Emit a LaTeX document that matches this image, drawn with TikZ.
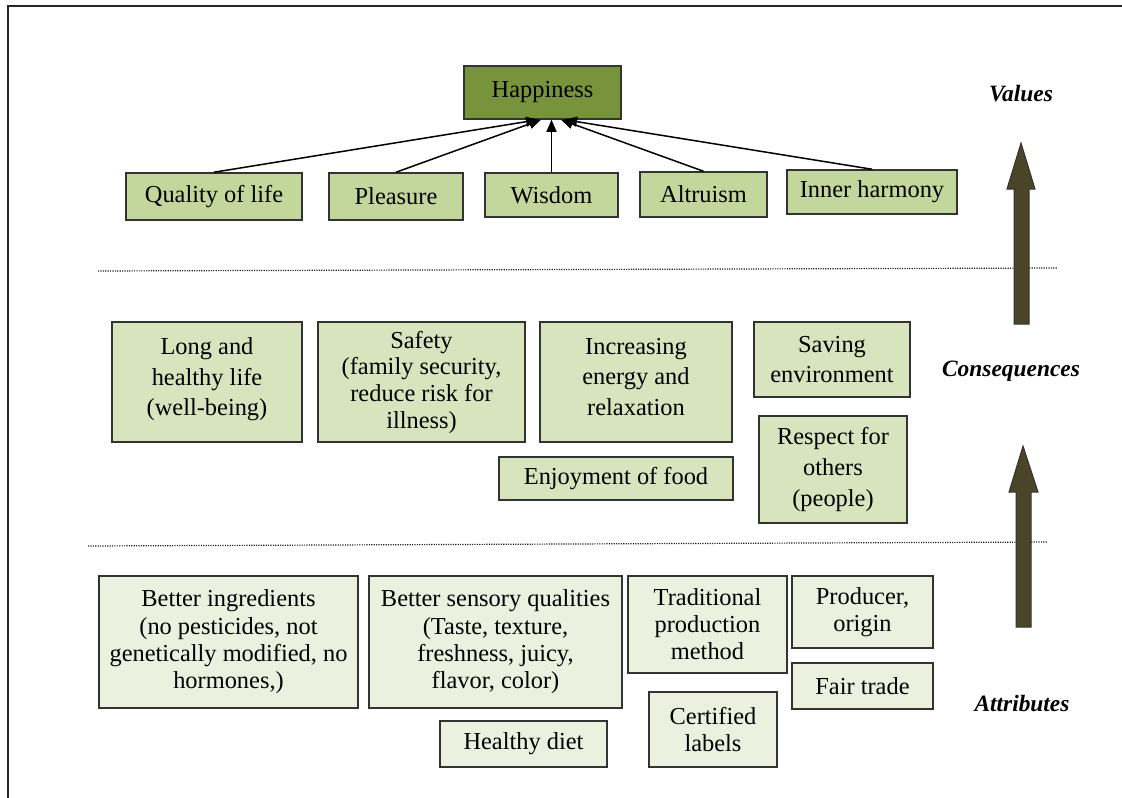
\documentclass[tikz,border=0pt]{standalone}
\usepackage{fontspec}
\setmainfont{Liberation Serif}
\usetikzlibrary{arrows.meta,calc}
\definecolor{hapfill}{HTML}{77933C}
\definecolor{valfill}{HTML}{C3D69B}
\definecolor{confill}{HTML}{D7E4BD}
\definecolor{attfill}{HTML}{EBF1DE}
\definecolor{bigarrow}{HTML}{4A4429}
\definecolor{edge}{HTML}{333333}

\begin{document}
\begin{tikzpicture}[x=0.5pt,y=-0.5pt,
  box/.style={draw=edge, line width=0.75pt, inner sep=0pt, align=center,
              font=\fontsize{12.2}{14.2}\selectfont},
  sz/.style 2 args={minimum width=#1*0.5pt, minimum height=#2*0.5pt},
  lead/.style={font=\fontsize{12.2}{#1}\selectfont},
  valbox/.style={box, fill=valfill},
  conbox/.style={box, fill=confill},
  attbox/.style={box, fill=attfill},
  topbox/.style={box, fill=hapfill},
  link/.style={line width=0.75pt, -{Triangle[length=6pt,width=5pt]}},
  layerline/.style={line width=0.6pt, black!85, dash pattern=on 0.6pt off 0.6pt},
  tier/.style={font=\fontsize{11.7}{14}\selectfont\bfseries\itshape, inner sep=0pt},
  uparrow/.style={fill=bigarrow, draw=black!80, line width=0.5pt, line join=miter}]

\useasboundingbox (0,0) rectangle (1122,797);

% outer frame
\draw[line width=1pt, black!85] (8,815) -- (8,6) -- (1140,6);

% values level
\node[topbox, sz={157}{53}] (hap) at (542.5,92.5) {Happiness};
\node[valbox, sz={176}{47}] (qol) at (214,196.5) {Quality of life};
\node[valbox, sz={134}{47}] (plea) at (396,196.5) {Pleasure};
\node[valbox, sz={133}{44}] (wis) at (551.5,195) {Wisdom};
\node[valbox, sz={127}{45}] (alt) at (703.5,194.5) {Altruism};
\node[valbox, sz={170}{44}] (inner) at (872,192) {Inner harmony};

\draw[link] (qol.north) -- ($(hap.south)+(-4.5,0)$);
\draw[link] (plea.north) -- ($(hap.south)+(-1.5,0)$);
\draw[link] (wis.north) -- (wis.north |- hap.south);
\draw[link] (alt.north) -- ($(hap.south)+(18.5,0)$);
\draw[link] (inner.north) -- ($(hap.south)+(22.5,0)$);

% layer separators
\coordinate (sepAa) at (98,271);
\coordinate (sepAb) at (1058,268);
\coordinate (sepBa) at (88,546);
\coordinate (sepBb) at (1047,542);
\draw[layerline] (sepAa) -- (sepAb);
\draw[layerline] (sepBa) -- (sepBb);

% consequences level
\node[conbox, sz={190}{120}, lead=15.3] (longlife) at (207,382)
  {Long and\\healthy life\\(well-being)\\[-10pt]};
\node[conbox, sz={207}{120}, lead=13.3] (safety) at (421.5,382)
  {Safety\\(family security,\\reduce risk for\\illness)\\[-11pt]};
\node[conbox, sz={192}{120}, lead=15.3] (energy) at (636,382)
  {Increasing\\energy and\\relaxation\\[-10pt]};
\node[conbox, sz={156}{75}, lead=15] (envir) at (832,359.5)
  {Saving\\environment};
\node[conbox, sz={234}{43}] (enjoy) at (616,478.5) {Enjoyment of food};
\node[conbox, sz={148}{107}, lead=15.3] (respect) at (833,469.5)
  {Respect for\\others\\(people)};

% attributes level
\node[attbox, sz={259}{132}, lead=13.7] (ingred) at (228.5,642)
  {Better ingredients\\(no pesticides, not\\genetically modified, no\\hormones,)};
\node[attbox, sz={253}{132}, lead=13.7] (sensory) at (495.5,642)
  {Better sensory qualities\\(Taste, texture,\\freshness, juicy,\\flavor, color)};
\node[attbox, sz={167}{46}] (diet) at (523.5,744) {Healthy diet};
\node[attbox, sz={159}{97}, lead=13.5] (tradit) at (707.5,624.5)
  {Traditional\\production\\method};
\node[attbox, sz={141}{72}, lead=13.8] (producer) at (862.5,612)
  {Producer,\\origin};
\node[attbox, sz={141}{46}] (fair) at (862.5,686) {Fair trade};
\node[attbox, sz={128}{75}, lead=13.8] (cert) at (713,729.5)
  {Certified\\labels};

% direction arrows
\draw[uparrow] (1014,324) -- (1014,189) -- (1007,189) -- (1021,143) -- (1035,189)
  -- (1029,189) -- (1029,324) -- cycle;
\draw[uparrow] (1016,627) -- (1016,492) -- (1009,492) -- (1023,446) -- (1038,492)
  -- (1031,492) -- (1031,627) -- cycle;

% level labels
\node[tier] (lvalues) at (1021,94) {Values};
\node[tier] (lconseq) at (1011,371) {Consequences};
\node[tier] (lattrib) at (1022,704) {Attributes};

\end{tikzpicture}
\end{document}
